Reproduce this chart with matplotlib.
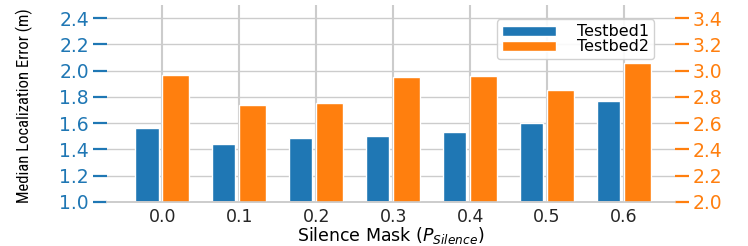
import numpy as np
import matplotlib
matplotlib.use("Agg")
import matplotlib.pyplot as plt
from matplotlib import font_manager

masks = ["0.0", "0.1", "0.2", "0.3", "0.4", "0.5", "0.6"]
testbed1 = [1.56, 1.44, 1.49, 1.50, 1.53, 1.60, 1.77]
testbed2 = [2.97, 2.74, 2.75, 2.95, 2.96, 2.85, 3.06]

blue = "#1f77b4"
orange = "#ff7f0e"
grid_c = "#cccccc"

plt.rcParams["font.family"] = "DejaVu Sans"

# pick a narrow face for the y label if one is around
names = {f.name for f in font_manager.fontManager.ttflist}
narrow = "DejaVu Sans"
for cand in ["Liberation Sans Narrow", "DejaVu Sans Condensed", "Roboto Condensed",
             "Open Sans Condensed", "Noto Sans Condensed"]:
    if cand in names:
        narrow = cand
        break

fig = plt.figure(figsize=(7.48, 2.46), dpi=100)
ax1 = fig.add_axes([0.143, 0.179, 0.759, 0.801])
ax2 = ax1.twinx()

x = np.arange(len(masks))
b1 = ax1.bar(x - 0.2, testbed1, width=0.3, color=blue, edgecolor="white",
             linewidth=1, label="Testbed1", zorder=2)
b2 = ax2.bar(x + 0.175, testbed2, width=0.35, color=orange, edgecolor="white",
             linewidth=1, label="Testbed2", zorder=2)

ax1.set_ylim(1.0, 2.5)
ax2.set_ylim(2.0, 3.5)
ax1.set_xlim(-0.72, 6.66)
ax1.set_yticks(np.arange(1.0, 2.41, 0.2))
ax2.set_yticks(np.arange(2.0, 3.41, 0.2))
ax1.set_xticks(x)
ax1.set_xticklabels(masks)

ax1.set_axisbelow(True)
ax1.grid(True, axis="y", color=grid_c, linewidth=1.0)
ax1.grid(True, axis="x", color=grid_c, linewidth=1.5)

for ax in (ax1, ax2):
    for s in ("top", "left", "right"):
        ax.spines[s].set_visible(False)
    ax.spines["bottom"].set_color(grid_c)
    ax.spines["bottom"].set_linewidth(1.2)

ax1.tick_params(axis="y", colors=blue, length=10, width=1.6, labelsize=13.5, pad=3)
ax2.tick_params(axis="y", colors=orange, length=10, width=1.6, labelsize=13.5, pad=3)
ax1.tick_params(axis="x", length=0, labelsize=12.5, labelcolor="#262626", pad=4)

ax1.set_ylabel("Median Localization Error (m)", fontsize=12 if narrow != "DejaVu Sans" else 10,
               family=[narrow, "DejaVu Sans"])
ax1.yaxis.set_label_coords(-0.13, 0.49)
ax1.set_xlabel("Silence Mask ($P_{Silence}$)", fontsize=12.5)
ax1.xaxis.set_label_coords(0.5, -0.115)

ax2.legend([b1, b2], ["Testbed1", "Testbed2"], loc="upper right",
           bbox_to_anchor=(0.98, 0.975), fontsize=11.5, handlelength=3.4,
           handleheight=0.6, handletextpad=1.3, labelspacing=0.0, borderpad=0.3,
           borderaxespad=0.6, edgecolor=grid_c, framealpha=0.9)

fig.savefig("out.png", dpi=100)
